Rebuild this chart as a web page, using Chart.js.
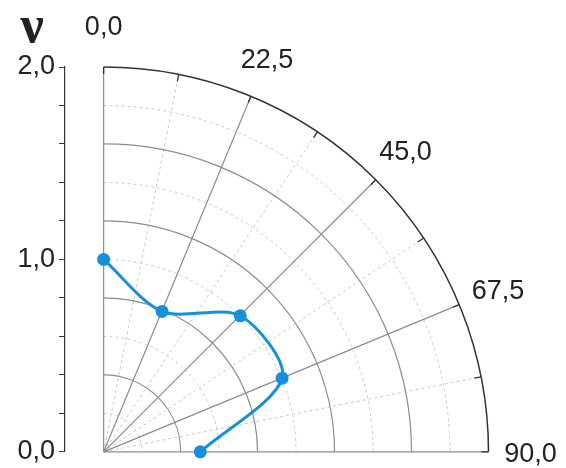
<!DOCTYPE html>
<html>
<head>
<meta charset="utf-8">
<script src="https://cdn.jsdelivr.net/npm/chart.js@4/dist/chart.umd.min.js"></script>
<style>
  html, body { margin: 0; padding: 0; background: #fff; }
  #wrap { width: 566px; height: 468px; }
</style>
</head>
<body>
<div id="wrap"><canvas id="chart"></canvas></div>
<script>
// data (angle in degrees from the vertical, clockwise; radius in units of ν)
const angles = [0, 22.5, 45, 67.5, 90];
const radii = [1.0, 0.79, 1.0, 1.0, 0.5];

// polar grid
const angleTicks = [0, 22.5, 45, 67.5, 90];
const angleLabels = ["0,0", "22,5", "45,0", "67,5", "90,0"];
const angleMinor = [11.25, 33.75, 56.25, 78.75];
const ringMajor = [0.4, 0.8, 1.2, 1.6];
const ringMinor = [0.2, 0.6, 1.0, 1.4, 1.8];
const radiusMax = 2.0;

const toRad = d => d * Math.PI / 180;
const points = angles.map((a, i) => ({
  x: radii[i] * Math.sin(toRad(a)),
  y: radii[i] * Math.cos(toRad(a)),
}));

const LINE = "#1690d8";

// draws the quarter polar grid using the x/y scales
const polarGrid = {
  id: "polarGrid",
  beforeDatasetsDraw(chart) {
    const { ctx, scales: { x, y } } = chart;
    const ox = x.getPixelForValue(0);
    const oy = y.getPixelForValue(0);
    const unit = oy - y.getPixelForValue(1);
    const R = radiusMax * unit;

    const ring = (r, color, width, dash) => {
      ctx.beginPath();
      ctx.setLineDash(dash);
      ctx.strokeStyle = color;
      ctx.lineWidth = width;
      ctx.arc(ox, oy, r * unit, -Math.PI / 2, 0);
      ctx.stroke();
    };
    const spoke = (deg, color, width, dash) => {
      const t = toRad(deg);
      ctx.beginPath();
      ctx.setLineDash(dash);
      ctx.strokeStyle = color;
      ctx.lineWidth = width;
      ctx.moveTo(ox, oy);
      ctx.lineTo(ox + R * Math.sin(t), oy - R * Math.cos(t));
      ctx.stroke();
    };

    ctx.save();
    ringMinor.forEach(r => ring(r, "#c9c9c9", 1, [3, 3]));
    angleMinor.forEach(a => spoke(a, "#c9c9c9", 1, [3, 3]));
    ringMajor.forEach(r => ring(r, "#8c8c8c", 1.2, []));
    angleTicks.forEach(a => spoke(a, "#8c8c8c", 1.2, []));
    ring(radiusMax, "#333", 1.5, []);

    // little ticks on the outer arc
    ctx.setLineDash([]);
    ctx.strokeStyle = "#333";
    ctx.lineWidth = 1.3;
    for (let a = 0; a <= 90; a += 11.25) {
      const t = toRad(a);
      ctx.beginPath();
      ctx.moveTo(ox + R * Math.sin(t), oy - R * Math.cos(t));
      ctx.lineTo(ox + (R - 7) * Math.sin(t), oy - (R - 7) * Math.cos(t));
      ctx.stroke();
    }

    // angle labels
    ctx.fillStyle = "#222";
    ctx.font = '27px "Liberation Sans", Arial, sans-serif';
    ctx.textAlign = "center";
    ctx.textBaseline = "middle";
    angleTicks.forEach((a, i) => {
      const t = toRad(a);
      const rl = R + 42;
      ctx.fillText(angleLabels[i], ox + rl * Math.sin(t), oy - rl * Math.cos(t) + 3);
    });

    // axis symbol
    ctx.font = 'bold 52px "Liberation Serif", "DejaVu Serif", serif';
    ctx.textBaseline = "alphabetic";
    ctx.fillText("ν", chart.chartArea.left - 33, chart.chartArea.top - 25);
    ctx.restore();
  },
};

new Chart(document.getElementById("chart"), {
  type: "scatter",
  data: {
    datasets: [{
      data: points,
      showLine: true,
      tension: 0.3,
      borderColor: LINE,
      borderWidth: 3,
      backgroundColor: LINE,
      pointRadius: 6.5,
      pointBorderWidth: 0,
      clip: false,
    }],
  },
  options: {
    responsive: true,
    maintainAspectRatio: false,
    animation: false,
    layout: { padding: { top: 67, right: 76, bottom: 14, left: 0 } },
    plugins: {
      legend: { display: false },
      tooltip: { enabled: false },
    },
    scales: {
      x: {
        type: "linear",
        display: false,
        min: -0.2,
        max: 2.0,
      },
      y: {
        type: "linear",
        position: "left",
        min: 0,
        max: radiusMax,
        afterFit(scale) { scale.width = 65; },
        grid: {
          drawOnChartArea: false,
          drawTicks: true,
          tickLength: 6,
          color: "#333",
        },
        border: { display: true, color: "#333", width: 1.2 },
        ticks: {
          stepSize: 0.2,
          padding: 4,
          color: "#222",
          font: { family: '"Liberation Sans", Arial, sans-serif', size: 27, lineHeight: 0.9 },
          callback: v => Math.abs(v - Math.round(v)) < 1e-6 ? v.toFixed(1).replace(".", ",") : "",
        },
      },
    },
  },
  plugins: [polarGrid],
});
</script>
</body>
</html>
